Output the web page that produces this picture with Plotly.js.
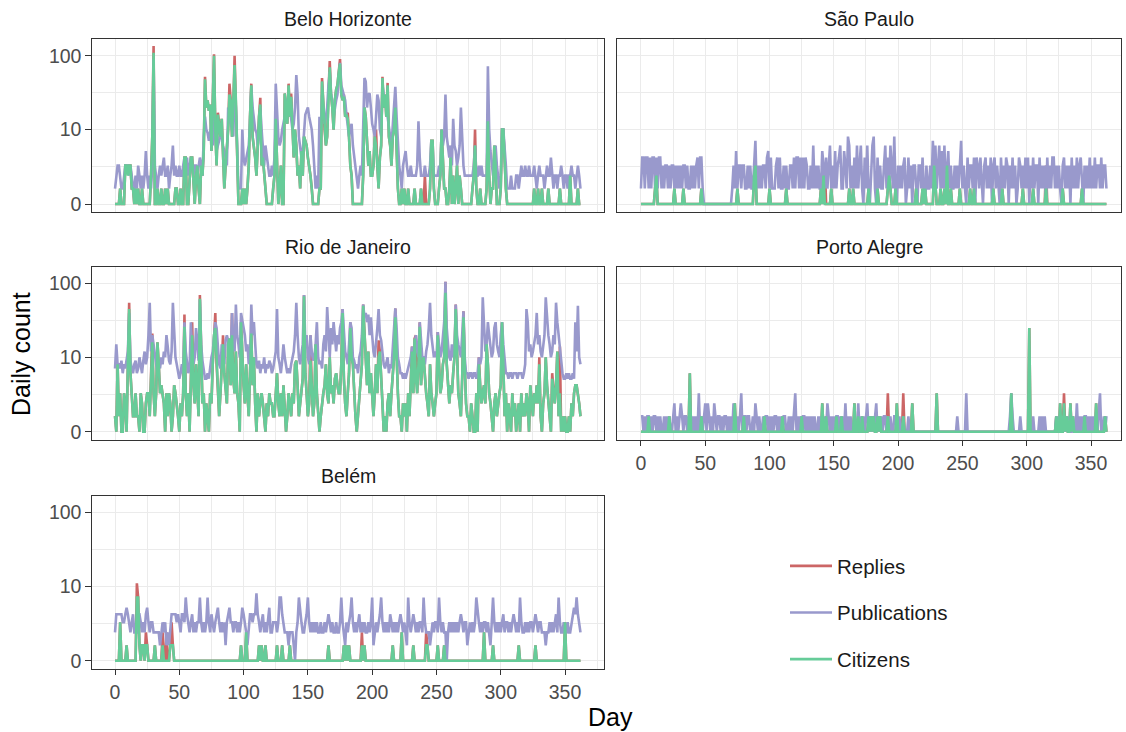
<!DOCTYPE html>
<html><head><meta charset="utf-8">
<script src="https://cdn.plot.ly/plotly-3.0.1.min.js"></script>
<style>html,body{margin:0;padding:0;background:#fff}#chart{width:1126px;height:732px}</style>
</head><body><div id="chart"></div>
<script>
// ---- data: daily counts, day 0..362 ----
const cityNames = ["Belo Horizonte", "São Paulo", "Rio de Janeiro", "Porto Alegre", "Belém"];
const seriesNames = ["Replies", "Publications", "Citizens"];
const seriesColors = ["#CC6666", "#9999CC", "#66CC99"];
const xTickValues = [0, 50, 100, 150, 200, 250, 300, 350];
const yTickValues = [0, 10, 100];

const bhReplies = [
0,0,0,0,1, 0,0,0,3,3, 3,3,3,1,1, 0,1,0,1,0, 0,1,0,0,0,
0,0,0,2,8, 135,0,0,1,0, 0,1,0,0,1, 0,1,0,0,0, 0,0,1,1,0,
0,1,0,0,4, 4,0,0,2,4, 4,1,0,2,3, 1,0,3,2,5, 52,20,25,18,22,
5,30,105,10,3, 17,12,8,14,5, 1,3,6,10,42, 25,8,20,100,25, 3,0,0,0,1,
0,1,0,1,3, 15,42,8,6,4, 2,8,15,27,3, 4,2,1,0,0, 0,0,0,1,2,
14,2,0,1,3, 0,0,31,20,12, 42,15,31,8,4, 10,6,2,3,1, 5,2,8,7,6,
4,3,2,1,0, 0,0,0,0,1, 1,50,20,10,6, 8,30,85,30,20, 10,25,35,40,60,
90,30,25,30,15, 16,17,8,3,2, 0,0,0,0,0, 0,0,0,2,20, 15,8,3,5,2,
2,3,8,10,3, 1,4,6,52,20, 30,15,43,8,6, 3,8,10,20,6, 1,0,0,1,0,
1,0,0,1,0, 0,0,0,1,0, 0,0,0,1,0, 0,2,0,0,0, 1,7,7,1,0,
0,0,1,2,10, 3,1,1,0,0, 1,4,0,2,0, 1,3,0,2,1, 0,0,0,0,0,
0,0,0,1,2, 10,1,0,0,1, 0,0,0,0,1, 13,2,0,1,1, 6,3,0,0,0,
1,10,10,3,1, 0,0,0,0,0, 0,0,0,0,0, 0,0,0,0,0, 0,0,0,0,0,
0,1,0,0,1, 0,0,1,0,0, 0,0,1,0,0, 0,0,0,0,0, 0,1,0,0,0,
0,0,0,0,2, 0,0,0,0,0, 1,0,0];
const bhPublications = [
1,2,3,3,2, 1,1,2,3,3, 3,2,3,2,1, 1,2,1,3,2, 1,2,1,2,5,
2,1,2,1,3, 90,3,2,1,2, 3,2,3,4,2, 2,3,1,2,3, 6,2,3,2,2,
3,2,2,3,4, 3,4,2,3,4, 3,2,3,3,2, 3,4,3,2,8, 15,10,9,7,10,
12,6,30,8,5, 6,7,9,8,6, 5,4,3,20,15, 12,10,8,40,20, 6,1,1,1,10,
4,3,4,5,6, 12,38,20,15,10, 9,6,8,20,10, 5,3,6,4,3, 2,2,3,2,4,
42,15,8,6,7, 10,12,15,20,25, 30,20,15,10,12, 20,55,30,8,6, 4,5,10,16,18,
20,15,12,10,6, 3,1,2,1,15, 8,30,20,12,15, 20,40,60,30,25, 15,20,25,30,50,
80,40,35,30,25, 16,12,8,10,12, 6,4,3,2,1, 2,3,2,10,50, 45,20,30,31,20,
12,10,8,15,30, 25,10,8,40,30, 25,20,15,10,8, 6,12,20,38,15, 5,3,2,1,3,
4,5,3,2,2, 3,2,2,2,2, 3,13,4,2,2, 2,3,2,2,2, 3,7,6,2,2,
2,2,3,2,10, 6,8,30,8,5, 4,6,3,14,6, 5,3,4,6,20, 8,3,2,2,2,
2,2,2,2,3, 6,2,2,3,2, 3,2,2,2,2, 72,10,5,3,2, 4,6,3,2,1,
2,10,10,6,3, 1,1,1,2,1, 1,1,2,2,1, 2,3,2,2,3, 2,2,3,2,2,
2,3,2,1,2, 3,2,2,2,1, 2,3,2,2,4, 2,1,2,2,1, 2,2,3,2,1,
2,2,1,2,2, 3,2,2,1,2, 3,2,1];
const bhCitizens = [
0,0,0,0,1, 0,0,0,3,3, 2,3,3,1,1, 0,1,0,1,0, 0,1,0,0,0,
0,0,0,2,8, 110,0,0,1,0, 0,1,0,0,1, 0,1,0,0,0, 0,0,1,1,0,
0,1,0,0,4, 4,0,0,2,4, 4,1,0,2,3, 1,0,3,2,5, 48,20,25,18,22,
5,30,100,10,3, 16,12,8,14,5, 1,3,6,10,30, 25,8,20,75,25, 3,0,0,0,1,
0,1,0,1,3, 15,40,8,6,4, 2,8,15,22,3, 4,2,1,0,0, 0,0,0,1,2,
14,2,0,1,3, 0,0,31,20,12, 40,15,28,8,4, 10,6,2,3,1, 5,2,8,7,6,
4,3,2,1,0, 0,0,0,0,1, 1,45,20,10,6, 8,30,70,30,20, 10,25,35,40,60,
78,30,25,28,15, 16,14,8,3,2, 0,0,0,0,0, 0,0,0,2,20, 15,8,3,5,2,
2,3,8,6,3, 1,4,6,50,20, 30,15,40,8,6, 3,8,10,20,6, 1,0,0,1,0,
1,0,0,1,0, 0,0,0,1,0, 0,0,0,1,0, 0,0,0,0,0, 1,7,7,1,0,
0,0,1,2,10, 3,1,1,0,0, 1,4,0,2,0, 1,3,0,2,1, 0,0,0,0,0,
0,0,0,1,2, 6,1,0,0,1, 0,0,0,0,1, 13,2,0,1,1, 6,3,0,0,0,
1,10,10,3,1, 0,0,0,0,0, 0,0,0,0,0, 0,0,0,0,0, 0,0,0,0,0,
0,1,0,0,1, 0,0,1,0,0, 0,0,1,0,0, 0,0,0,0,0, 0,1,0,0,0,
0,0,0,0,2, 0,0,0,0,0, 1,0,0];

const spReplies = [
0,0,0,0,0, 0,0,0,0,0, 0,1,2,0,0, 0,0,0,0,0, 0,0,0,0,0,
0,1,0,0,0, 0,0,0,1,0, 0,0,0,0,0, 0,0,0,0,0, 0,0,1,0,0,
0,0,0,0,0, 0,0,0,0,0, 0,0,0,0,0, 0,0,0,0,0, 0,0,0,0,0,
1,0,0,0,0, 0,0,0,0,0, 0,0,0,2,3, 0,0,0,0,0, 0,0,0,0,0,
1,0,0,0,0, 0,0,0,0,0, 0,0,0,1,0, 0,0,0,0,0, 0,0,0,0,0,
0,0,0,0,0, 0,0,0,0,0, 0,0,0,0,0, 1,0,2,3,0, 0,0,0,1,0,
0,0,0,0,0, 0,0,0,0,0, 0,0,1,0,0, 1,0,0,0,0, 0,0,0,0,0,
0,0,1,0,0, 0,0,0,0,1, 0,0,0,0,0, 0,0,1,2,1, 0,0,0,1,0,
0,0,0,0,0, 0,0,0,0,0, 0,0,0,0,1, 0,0,0,0,1, 0,1,0,0,0,
0,0,0,3,1, 0,0,0,1,0, 0,1,0,3,0, 0,1,0,0,0, 0,0,0,1,0,
0,0,0,0,0, 0,1,0,0,1, 0,0,0,0,0, 0,0,0,0,0, 0,0,0,0,1,
0,0,0,0,0, 0,1,0,0,0, 0,0,0,0,0, 0,0,0,0,0, 0,0,1,0,0,
0,0,0,0,0, 1,0,0,0,0, 0,0,0,0,0, 3,0,0,0,0, 0,0,0,0,0,
0,0,0,1,0, 0,0,0,0,0, 0,0,0,0,0, 0,0,0,1,0, 0,0,0,0,0,
0,0,0,0,0, 0,0,0,0,0, 0,0,0];
const spPublications = [
1,4,4,1,4, 4,1,4,1,4, 4,1,4,1,4, 4,1,3,1,3, 3,1,3,1,3,
3,1,3,1,3, 1,3,1,3,3, 1,3,1,1,3, 1,3,1,3,4, 1,4,4,1,0,
0,0,0,0,0, 0,0,0,0,0, 0,0,0,0,0, 0,0,0,0,0, 0,1,3,1,5,
1,3,3,1,3, 3,1,1,3,1, 3,1,1,3,7, 1,3,1,3,1, 3,3,1,4,5,
1,4,1,1,1, 3,4,1,4,1, 1,3,1,3,1, 1,3,3,1,4, 1,4,4,1,4,
1,4,1,4,3, 1,1,3,1,6, 1,3,1,3,1, 1,5,3,1,4, 1,3,6,1,3,
1,5,1,3,4, 6,1,1,5,3, 1,8,6,1,3, 1,4,1,6,1, 3,6,1,0,4,
1,6,1,0,3, 6,8,1,0,4, 1,3,1,1,3, 6,1,4,1,6, 3,1,8,1,0,
3,1,3,1,3, 4,0,1,4,1, 3,0,3,3,1, 0,3,3,1,4, 1,0,3,1,1,
3,1,7,3,6, 1,3,6,1,5, 1,6,1,3,5, 1,3,1,1,3, 1,3,1,3,7,
1,3,1,0,4, 1,3,3,1,4, 0,4,3,1,4, 1,0,3,4,1, 3,1,4,0,3,
4,1,3,1,0, 4,1,3,1,4, 3,0,3,1,4, 1,3,0,1,4, 3,1,3,1,4,
1,4,0,3,1, 4,1,3,3,0, 4,1,3,1,3, 0,4,1,3,1, 4,4,1,3,1,
3,1,0,3,4, 1,3,1,3,0, 4,1,3,1,4, 1,3,4,1,0, 3,1,3,1,4,
1,3,1,4,1, 3,3,1,4,1, 3,3,1];
const spCitizens = [
0,0,0,0,0, 0,0,0,0,0, 0,1,2,0,0, 0,0,0,0,0, 0,0,0,0,0,
0,1,0,0,0, 0,0,0,1,0, 0,0,0,0,0, 0,0,0,0,0, 0,0,1,0,0,
0,0,0,0,0, 0,0,0,0,0, 0,0,0,0,0, 0,0,0,0,0, 0,0,0,0,0,
1,0,0,0,0, 0,0,0,0,0, 0,0,0,2,3, 0,0,0,0,0, 0,0,0,0,0,
1,0,0,0,0, 0,0,0,0,0, 0,0,0,1,0, 0,0,0,0,0, 0,0,0,0,0,
0,0,0,0,0, 0,0,0,0,0, 0,0,0,0,0, 1,0,2,0,0, 0,0,0,1,0,
0,0,0,0,0, 0,0,0,0,0, 0,0,1,0,0, 1,0,0,0,0, 0,0,0,0,0,
0,0,1,0,0, 0,0,0,0,1, 0,0,0,0,0, 0,0,1,2,1, 0,0,0,1,0,
0,0,0,0,0, 0,0,0,0,0, 0,0,0,0,1, 0,0,0,0,1, 0,1,0,0,0,
0,0,0,3,1, 0,0,0,1,0, 0,1,0,3,0, 0,1,0,0,0, 0,0,0,1,0,
0,0,0,0,0, 0,1,0,0,1, 0,0,0,0,0, 0,0,0,0,0, 0,0,0,0,1,
0,0,0,0,0, 0,1,0,0,0, 0,0,0,0,0, 0,0,0,0,0, 0,0,1,0,0,
0,0,0,0,0, 1,0,0,0,0, 0,0,0,0,0, 1,0,0,0,0, 0,0,0,0,0,
0,0,0,1,0, 0,0,0,0,0, 0,0,0,0,0, 0,0,0,1,0, 0,0,0,0,0,
0,0,0,0,0, 0,0,0,0,0, 0,0,0];

const rjReplies = [
1,0,8,1,3, 0,0,3,2,0, 8,55,6,2,1, 1,3,1,1,0, 3,2,0,0,2,
3,3,1,5,21, 3,1,3,16,8, 3,4,3,2,0, 3,1,3,2,0, 1,4,3,2,1,
0,2,1,3,38, 3,1,3,0,5, 30,4,2,8,3, 1,70,10,2,3, 0,2,1,0,3,
2,8,20,40,8, 4,1,3,8,20, 6,3,2,15,18, 4,40,5,3,12, 3,2,0,30,8,
4,2,8,3,1, 6,22,4,10,2, 0,3,1,2,3, 2,1,0,2,1, 3,2,2,1,1,
3,6,2,1,3, 1,4,2,0,1, 3,2,1,3,2, 8,9,4,1,2, 3,5,70,6,3,
1,2,20,4,1, 2,15,3,1,0, 1,2,3,4,8, 3,2,10,3,4, 2,5,6,4,3,
3,8,45,5,2, 1,3,6,30,10, 8,3,1,0,1, 3,5,8,52,20, 8,4,12,3,6,
2,1,3,8,3, 17,12,4,2,0, 1,0,2,3,1, 3,5,10,46,8, 3,1,1,0,2,
1,2,0,3,1, 4,14,3,18,20, 3,8,30,4,8, 10,5,3,2,1, 8,3,2,1,2,
3,22,8,3,4, 8,10,105,8,4, 2,4,3,6,10, 52,12,3,2,1, 5,42,8,2,1,
1,0,2,1,0, 0,3,0,10,4, 2,3,4,2,15, 8,3,2,1,0, 2,3,1,2,3,
4,30,8,1,3, 0,2,1,0,3, 1,2,0,1,2, 0,3,1,2,1, 3,2,0,4,2,
1,3,2,4,2, 10,1,0,2,3, 10,4,2,1,0, 6,3,2,4,12, 1,14,0,1,0,
1,0,0,1,0, 2,1,3,4,4, 3,2,1];
const rjPublications = [
7,15,8,8,7, 9,6,8,7,10, 12,40,9,7,6, 8,9,6,7,10, 8,6,9,12,8,
10,20,55,12,20, 15,10,8,6,9, 7,10,8,12,10, 20,14,9,8,12, 55,25,10,8,6,
5,6,8,6,30, 12,8,6,7,30, 12,8,10,25,15, 9,60,15,9,6, 5,5,6,5,8,
10,12,20,30,25, 12,8,7,15,10, 8,17,20,17,10, 12,40,15,12,52, 20,15,10,40,30,
25,20,12,15,8, 10,52,20,30,12, 8,7,9,6,8, 7,10,6,8,7, 9,8,6,7,10,
12,45,10,8,6, 9,15,10,8,6, 7,6,8,10,12, 20,55,20,10,8, 12,15,70,15,20,
10,8,20,12,9, 10,15,30,10,8, 9,7,15,20,12, 48,20,10,25,15, 30,20,12,20,15,
25,30,45,20,12, 10,8,15,30,25, 10,9,7,8,6, 10,12,20,52,35, 40,30,38,20,35,
20,12,10,15,25, 45,20,17,10,8, 7,9,10,6,8, 7,12,20,46,25, 10,8,6,6,5,
6,5,6,7,8, 10,14,12,15,20, 12,10,30,15,10, 10,8,12,15,25, 55,20,15,10,12,
10,22,15,10,12, 20,30,105,25,15, 10,9,15,10,12, 52,20,15,12,10, 20,42,10,6,6,
5,6,6,5,6, 6,5,6,10,8, 10,65,20,12,15, 30,20,15,10,12, 25,30,15,12,10,
20,30,15,8,6, 6,5,6,6,5, 6,6,6,5,6, 6,6,5,6,8, 45,30,12,15,10,
12,15,20,40,15, 20,12,10,15,20, 65,30,20,15,10, 12,20,15,55,30, 20,14,10,6,5,
5,6,5,6,5, 5,6,5,30,12, 50,10,8];
const rjCitizens = [
1,0,8,1,3, 0,0,3,2,0, 8,45,6,2,1, 1,3,1,1,0, 3,2,0,0,2,
3,3,1,5,16, 3,1,3,16,8, 3,4,3,2,0, 3,1,3,2,0, 1,4,3,2,1,
0,2,1,3,26, 3,1,3,0,5, 20,4,2,8,3, 1,62,10,2,3, 0,2,1,0,3,
2,8,20,25,8, 4,1,3,8,15, 6,3,2,15,18, 4,20,5,3,12, 3,2,0,30,8,
4,2,8,3,1, 6,21,4,10,2, 0,3,1,2,3, 2,1,0,2,1, 3,2,2,1,1,
3,6,2,1,3, 1,4,2,0,1, 3,2,1,3,2, 8,9,4,1,2, 3,5,67,6,3,
1,2,9,4,1, 2,15,3,1,0, 1,2,3,4,8, 3,2,10,3,4, 2,5,6,4,3,
3,8,40,5,2, 1,3,6,25,10, 8,3,1,0,1, 3,5,8,50,20, 8,4,12,3,6,
2,1,3,8,3, 10,12,4,2,0, 1,0,2,3,1, 3,5,10,35,8, 3,1,1,0,2,
1,2,0,3,1, 4,12,3,18,5, 3,8,26,4,8, 10,5,3,2,1, 8,3,2,1,2,
3,20,8,3,4, 8,10,75,8,4, 2,4,3,6,10, 45,12,3,2,1, 5,35,8,2,1,
1,0,2,1,0, 0,3,0,8,4, 2,3,4,2,15, 8,3,2,1,0, 2,3,1,2,3,
4,30,8,1,3, 0,2,1,0,3, 1,2,0,1,2, 0,3,1,2,1, 3,2,0,4,2,
1,3,2,4,2, 8,1,0,2,3, 10,4,2,1,0, 5,3,2,4,12, 1,3,0,1,0,
1,0,0,1,0, 2,1,3,4,4, 3,2,1];

const paReplies = [
0,0,0,0,0, 0,1,0,0,0, 0,0,0,0,0, 0,0,0,0,0, 0,0,1,0,0,
0,0,0,0,0, 0,0,0,0,0, 0,0,0,6,0, 0,0,0,0,0, 0,0,1,0,0,
0,0,0,0,0, 0,0,0,0,0, 0,0,0,0,0, 0,0,0,0,0, 0,0,0,2,0,
0,0,0,0,0, 1,0,0,0,0, 0,0,0,0,0, 0,0,0,0,0, 0,1,0,0,0,
0,0,0,0,0, 0,0,0,0,0, 1,0,0,0,0, 0,0,0,0,0, 0,0,0,0,0,
1,0,0,0,0, 0,0,0,0,0, 0,0,0,0,0, 0,2,0,0,1, 0,0,0,0,0,
0,0,1,0,0, 0,1,0,0,0, 0,0,0,0,0, 0,2,0,0,1, 0,0,1,0,0,
0,0,1,0,1, 0,1,0,0,1, 0,1,0,0,0, 0,0,3,0,0, 0,0,0,0,2,
0,0,0,0,3, 0,0,0,0,0, 0,2,0,0,0, 0,0,0,0,0, 0,0,0,0,0,
0,0,0,0,0, 3,0,0,0,0, 0,0,0,0,0, 0,0,0,0,0, 0,0,0,0,0,
0,0,0,0,0, 0,0,0,0,0, 0,0,0,0,0, 0,0,0,0,0, 0,0,0,0,0,
0,0,0,0,0, 0,0,0,0,0, 0,0,0,3,0, 0,0,0,0,0, 0,0,0,0,0,
0,0,25,0,0, 0,0,0,0,0, 0,0,0,0,0, 0,0,0,0,0, 0,0,0,1,0,
0,2,0,0,3, 0,1,0,0,2, 0,1,0,0,0, 0,0,0,0,0, 1,0,0,0,0,
0,0,0,0,2, 0,0,0,0,0, 0,1,0];
const paPublications = [
1,1,0,1,0, 1,1,0,1,0, 1,1,0,1,0, 1,0,0,1,0, 1,0,1,0,0,
1,2,0,1,0, 1,2,1,0,1, 1,0,1,0,1, 0,1,0,1,0, 3,0,1,0,1,
2,0,2,1,0, 1,0,2,1,0, 1,1,0,1,0, 1,1,0,1,0, 1,0,2,1,0,
1,0,1,3,0, 1,1,0,1,1, 0,0,1,0,2, 1,0,1,0,0, 1,0,1,1,0,
1,0,1,0,1, 1,0,1,0,1, 0,1,1,0,0, 1,0,1,0,1, 3,0,1,0,1,
0,1,1,0,1, 0,1,0,1,0, 1,0,0,1,0, 1,0,0,1,0, 2,1,0,1,0,
1,0,1,1,0, 1,0,1,0,2, 0,1,0,1,0, 0,1,0,0,2, 0,1,0,1,0,
1,2,0,1,0, 1,0,1,2,0, 1,0,1,0,1, 1,0,1,0,1, 0,0,1,1,0,
0,1,0,0,1, 0,0,0,1,0, 0,0,0,0,0, 0,0,0,0,0, 0,0,0,0,0,
0,0,0,0,0, 0,0,0,0,0, 0,0,0,0,0, 0,0,0,0,0, 0,1,0,0,0,
0,0,0,3,0, 0,0,0,0,0, 0,0,0,0,0, 0,0,0,0,0, 0,0,0,0,0,
0,0,0,0,0, 0,0,0,0,0, 0,0,1,3,1, 0,0,0,0,0, 1,0,0,0,0,
0,0,1,0,0, 1,0,0,0,0, 1,0,1,0,1, 0,0,0,0,0, 0,0,0,1,0,
1,0,1,0,1, 0,1,0,1,0, 0,1,0,0,2, 0,1,0,1,0, 1,1,0,1,0,
1,0,1,0,1, 0,1,3,0,0, 1,0,1];
const paCitizens = [
0,0,0,0,0, 0,1,0,0,0, 0,0,0,0,0, 0,0,0,0,0, 0,0,1,0,0,
0,0,0,0,0, 0,0,0,0,0, 0,0,0,6,0, 0,0,0,0,0, 0,0,1,0,0,
0,0,0,0,0, 0,0,0,0,0, 0,0,0,0,0, 0,0,0,0,0, 0,0,0,2,0,
0,0,0,0,0, 1,0,0,0,0, 0,0,0,0,0, 0,0,0,0,0, 0,1,0,0,0,
0,0,0,0,0, 0,0,0,0,0, 1,0,0,0,0, 0,0,0,0,0, 0,0,0,0,0,
1,0,0,0,0, 0,0,0,0,0, 0,0,0,0,0, 0,2,0,0,1, 0,0,0,0,0,
0,0,1,0,0, 0,1,0,0,0, 0,0,0,0,0, 0,2,0,0,1, 0,0,1,0,0,
0,0,1,0,1, 0,1,0,0,1, 0,1,0,0,0, 0,0,1,0,0, 0,0,0,0,2,
0,0,0,0,1, 0,0,0,0,0, 0,2,0,0,0, 0,0,0,0,0, 0,0,0,0,0,
0,0,0,0,0, 3,0,0,0,0, 0,0,0,0,0, 0,0,0,0,0, 0,0,0,0,0,
0,0,0,0,0, 0,0,0,0,0, 0,0,0,0,0, 0,0,0,0,0, 0,0,0,0,0,
0,0,0,0,0, 0,0,0,0,0, 0,0,0,3,0, 0,0,0,0,0, 0,0,0,0,0,
0,0,25,0,0, 0,0,0,0,0, 0,0,0,0,0, 0,0,0,0,0, 0,0,0,1,0,
0,2,0,0,2, 0,1,0,0,2, 0,1,0,0,0, 0,0,0,0,0, 1,0,0,0,0,
0,0,0,0,2, 0,0,0,0,0, 0,1,0];

const beReplies = [
0,0,0,0,3, 0,0,0,0,1, 0,0,0,0,0, 0,0,11,7,1, 0,1,1,0,2,
1,0,0,0,0, 0,1,0,0,0, 0,0,2,0,0, 2,0,0,1,3, 1,0,0,0,0,
0,0,0,0,0, 0,0,0,0,0, 0,0,0,0,0, 0,0,0,0,0, 0,0,0,0,0,
0,0,0,0,0, 0,0,0,0,0, 0,0,0,0,0, 0,0,0,0,0, 0,0,0,1,0,
0,0,2,0,0, 0,0,0,0,0, 0,0,1,0,1, 0,0,1,0,0, 0,0,0,0,0,
0,1,0,0,0, 1,0,0,0,0, 0,1,0,0,0, 0,0,0,0,0, 0,0,0,0,0,
0,0,0,0,0, 0,0,0,0,0, 0,0,0,0,0, 0,1,0,0,0, 0,0,0,0,0,
0,0,0,1,0, 1,0,1,0,0, 0,0,0,0,0, 0,0,2,0,1, 0,0,0,0,0,
0,0,0,0,0, 0,0,0,0,0, 0,0,0,0,0, 0,1,0,0,0, 0,0,0,2,0,
0,0,0,0,0, 0,0,1,0,0, 0,0,0,0,0, 0,0,2,1,0, 0,0,0,0,0,
0,1,0,0,0, 0,1,0,0,0, 0,0,0,0,0, 0,0,0,0,0, 0,0,0,0,0,
0,0,0,0,0, 0,0,0,0,0, 0,0,2,0,0, 0,0,0,0,1, 0,0,0,0,0,
0,0,0,0,0, 0,0,0,0,0, 0,0,0,0,1, 0,0,0,0,0, 0,0,0,0,0,
0,0,1,0,0, 0,0,0,0,0, 0,0,0,0,0, 0,0,0,0,0, 0,0,0,0,0,
3,0,0,0,0, 0,0,0,0,0, 0,0,0];
const bePublications = [
2,4,4,4,4, 4,3,3,4,5, 4,3,2,3,4, 2,2,2,4,4, 3,2,3,2,4,
5,3,2,3,3, 2,2,2,2,2, 1,2,3,2,3, 1,2,1,2,4, 4,4,4,3,4,
3,2,4,4,3, 7,4,3,2,3, 4,2,3,2,3, 3,7,3,2,3, 2,3,7,3,2,
4,3,2,3,4, 5,3,2,3,2, 3,1,3,4,5, 3,3,2,3,3, 2,3,2,3,5,
4,3,2,1,2, 4,4,3,4,4, 8,4,3,2,3, 4,2,3,2,3, 5,2,2,3,3,
3,2,3,7,7, 4,3,2,2,2, 1,2,2,2,1, 0,2,3,7,4, 3,2,2,3,4,
7,3,2,3,2, 3,2,3,2,2, 3,2,2,3,2, 3,4,3,2,3, 2,2,3,2,2,
3,7,3,2,1, 3,2,3,4,7, 3,2,3,2,3, 4,2,3,2,3, 2,2,3,2,3,
7,1,2,3,2, 3,4,7,3,2, 3,2,3,2,4, 3,2,3,2,3, 2,3,4,3,2,
3,2,1,7,3, 2,3,4,3,2, 3,2,3,3,2, 7,3,2,2,2, 1,2,3,2,3,
3,2,7,3,2, 3,2,2,0,2, 3,2,3,2,3, 2,3,2,3,4, 3,2,3,3,1,
2,3,2,3,2, 3,7,4,3,2, 3,2,3,3,2, 3,2,1,3,7, 3,2,3,2,3,
2,3,4,2,3, 3,2,3,2,3, 4,3,2,3,2, 7,3,2,2,3, 2,3,2,3,3,
2,3,4,3,2, 3,3,2,2,2, 1,2,2,3,2, 3,2,3,4,2, 7,3,2,2,3,
2,2,3,2,2, 3,4,5,4,7, 4,3,2];
const beCitizens = [
0,0,0,0,3, 0,0,0,0,1, 0,0,0,0,0, 0,0,7,7,1, 0,1,1,0,1,
1,0,0,0,0, 0,1,0,0,0, 0,0,1,0,0, 0,0,0,1,1, 1,0,0,0,0,
0,0,0,0,0, 0,0,0,0,0, 0,0,0,0,0, 0,0,0,0,0, 0,0,0,0,0,
0,0,0,0,0, 0,0,0,0,0, 0,0,0,0,0, 0,0,0,0,0, 0,0,0,1,0,
0,0,2,0,0, 0,0,0,0,0, 0,0,1,0,1, 0,0,1,0,0, 0,0,0,0,0,
0,1,0,0,0, 1,0,0,0,0, 0,1,0,0,0, 0,0,0,0,0, 0,0,0,0,0,
0,0,0,0,0, 0,0,0,0,0, 0,0,0,0,0, 0,1,0,0,0, 0,0,0,0,0,
0,0,0,1,0, 1,0,1,0,0, 0,0,0,0,0, 0,0,1,0,1, 0,0,0,0,0,
0,0,0,0,0, 0,0,0,0,0, 0,0,0,0,0, 0,1,0,0,0, 0,0,0,2,0,
0,0,0,0,0, 0,0,1,0,0, 0,0,0,0,0, 0,0,1,1,0, 0,0,0,0,0,
0,1,0,0,0, 0,1,0,0,0, 0,0,0,0,0, 0,0,0,0,0, 0,0,0,0,0,
0,0,0,0,0, 0,0,0,0,0, 0,0,2,0,0, 0,0,0,0,1, 0,0,0,0,0,
0,0,0,0,0, 0,0,0,0,0, 0,0,0,0,1, 0,0,0,0,0, 0,0,0,0,0,
0,0,1,0,0, 0,0,0,0,0, 0,0,0,0,0, 0,0,0,0,0, 0,0,0,0,0,
3,0,0,0,0, 0,0,0,0,0, 0,0,0];

// ---- build ----
const days = Array.from({length: bhReplies.length}, (_, i) => i);
const cityData = [
  [bhReplies, bhPublications, bhCitizens],
  [spReplies, spPublications, spCitizens],
  [rjReplies, rjPublications, rjCitizens],
  [paReplies, paPublications, paCitizens],
  [beReplies, bePublications, beCitizens]
];
// pseudo-log (asinh) scale, as in scales::pseudo_log_trans(base = 10)
const tr = v => Math.asinh(v / 2) / Math.LN10;

const W = 1126, H = 732;
// panel boxes in pixels: [left, right, top, bottom]
const panels = [
  [92, 604, 39, 211.9],
  [617.3, 1120.7, 39, 211.9],
  [92, 604, 266.7, 439.6],
  [617.3, 1120.7, 266.7, 439.6],
  [92, 604, 495.7, 668.6]
];
const xRanges = [[-17.9, 380.3], [-18.4, 373.1], [-17.9, 380.3], [-18.4, 373.1], [-17.9, 380.3]];
const showX = [false, false, false, true, true];
const showY = [true, false, true, false, true];

const traces = [];
const warn = [];
cityData.forEach((arrs, p) => {
  arrs.forEach((arr, s) => {
    if (arr.length !== days.length) warn.push(cityNames[p] + " " + seriesNames[s] + " len " + arr.length);
    traces.push({
      type: 'scatter', mode: 'lines',
      x: days, y: arr.map(tr),
      customdata: arr,
      hovertemplate: cityNames[p] + '<br>Day %{x}<br>' + seriesNames[s] + ': %{customdata}<extra></extra>',
      name: seriesNames[s], legendgroup: seriesNames[s], showlegend: p === 0,
      line: {color: seriesColors[s], width: 2.6},
      xaxis: p === 0 ? 'x' : 'x' + (p + 1),
      yaxis: p === 0 ? 'y' : 'y' + (p + 1)
    });
  });
});

const FONT = '"Liberation Sans", Arial, Helvetica, sans-serif';
const TICK = 19.5;
const layout = {
  width: W, height: H,
  margin: {l: 0, r: 0, t: 0, b: 0},
  paper_bgcolor: '#fff', plot_bgcolor: '#fff',
  font: {family: FONT, color: '#1a1a1a'},
  showlegend: true,
  legend: {
    x: 785 / W, y: 1 - 546 / H, xanchor: 'left', yanchor: 'top',
    font: {family: FONT, size: 20.5, color: '#1a1a1a'},
    itemwidth: 42,
    traceorder: 'grouped', tracegroupgap: 17, bgcolor: 'rgba(0,0,0,0)'
  },
  annotations: [],
  hovermode: 'closest'
};
const yMajor = yTickValues.map(tr);
const yMinor = [(yMajor[0] + yMajor[1]) / 2, (yMajor[1] + yMajor[2]) / 2];
const xMinor = xTickValues.map(v => v + 25);

panels.forEach((b, p) => {
  const xk = p === 0 ? 'xaxis' : 'xaxis' + (p + 1);
  const yk = p === 0 ? 'yaxis' : 'yaxis' + (p + 1);
  const xa = p === 0 ? 'x' : 'x' + (p + 1);
  const ya = p === 0 ? 'y' : 'y' + (p + 1);
  layout[xk] = {
    domain: [b[0] / W, b[1] / W], anchor: ya, range: xRanges[p],
    tickmode: 'array', tickvals: xTickValues, ticktext: xTickValues.map(String),
    showticklabels: showX[p], ticks: showX[p] ? 'outside' : '', ticklen: 5.5, tickwidth: 1.2, tickcolor: '#333333',
    tickfont: {family: FONT, size: TICK, color: '#4d4d4d'},
    showgrid: true, gridcolor: '#EBEBEB', gridwidth: 1.1, zeroline: false,
    minor: {tickvals: xMinor, showgrid: true, gridcolor: '#EBEBEB', gridwidth: 0.6, ticks: ''},
    showline: true, mirror: true, linecolor: '#333333', linewidth: 1.3, fixedrange: true
  };
  layout[yk] = {
    domain: [1 - b[3] / H, 1 - b[2] / H], anchor: xa, range: [-0.106, 2.226],
    tickmode: 'array', tickvals: yMajor, ticktext: yTickValues.map(String),
    showticklabels: showY[p], ticks: showY[p] ? 'outside' : '', ticklen: 5.5, tickwidth: 1.2, tickcolor: '#333333',
    tickfont: {family: FONT, size: TICK, color: '#4d4d4d'},
    showgrid: true, gridcolor: '#EBEBEB', gridwidth: 1.1, zeroline: false,
    minor: {tickvals: yMinor, showgrid: true, gridcolor: '#EBEBEB', gridwidth: 0.6, ticks: ''},
    showline: true, mirror: true, linecolor: '#333333', linewidth: 1.3, fixedrange: true
  };
  layout.annotations.push({
    text: cityNames[p], xref: 'paper', yref: 'paper',
    x: (b[0] + b[1]) / 2 / W, y: 1 - (b[2] - 20) / H, xanchor: 'center', yanchor: 'middle',
    showarrow: false, font: {family: FONT, size: 19.5, color: '#1a1a1a'}
  });
});
layout.annotations.push({
  text: 'Day', xref: 'paper', yref: 'paper', x: 610 / W, y: 1 - 717 / H,
  xanchor: 'center', yanchor: 'middle', showarrow: false, font: {family: FONT, size: 25, color: '#000'}
});
layout.annotations.push({
  text: 'Daily count', xref: 'paper', yref: 'paper', x: 21 / W, y: 1 - 354 / H,
  xanchor: 'center', yanchor: 'middle', textangle: -90, showarrow: false, font: {family: FONT, size: 25, color: '#000'}
});
if (warn.length) layout.annotations.push({text: warn.join('<br>'), xref: 'paper', yref: 'paper', x: 0.8, y: 0.1, showarrow: false, font: {color: 'red', size: 12}});

Plotly.newPlot('chart', traces, layout, {displayModeBar: false, staticPlot: false});
</script></body></html>
